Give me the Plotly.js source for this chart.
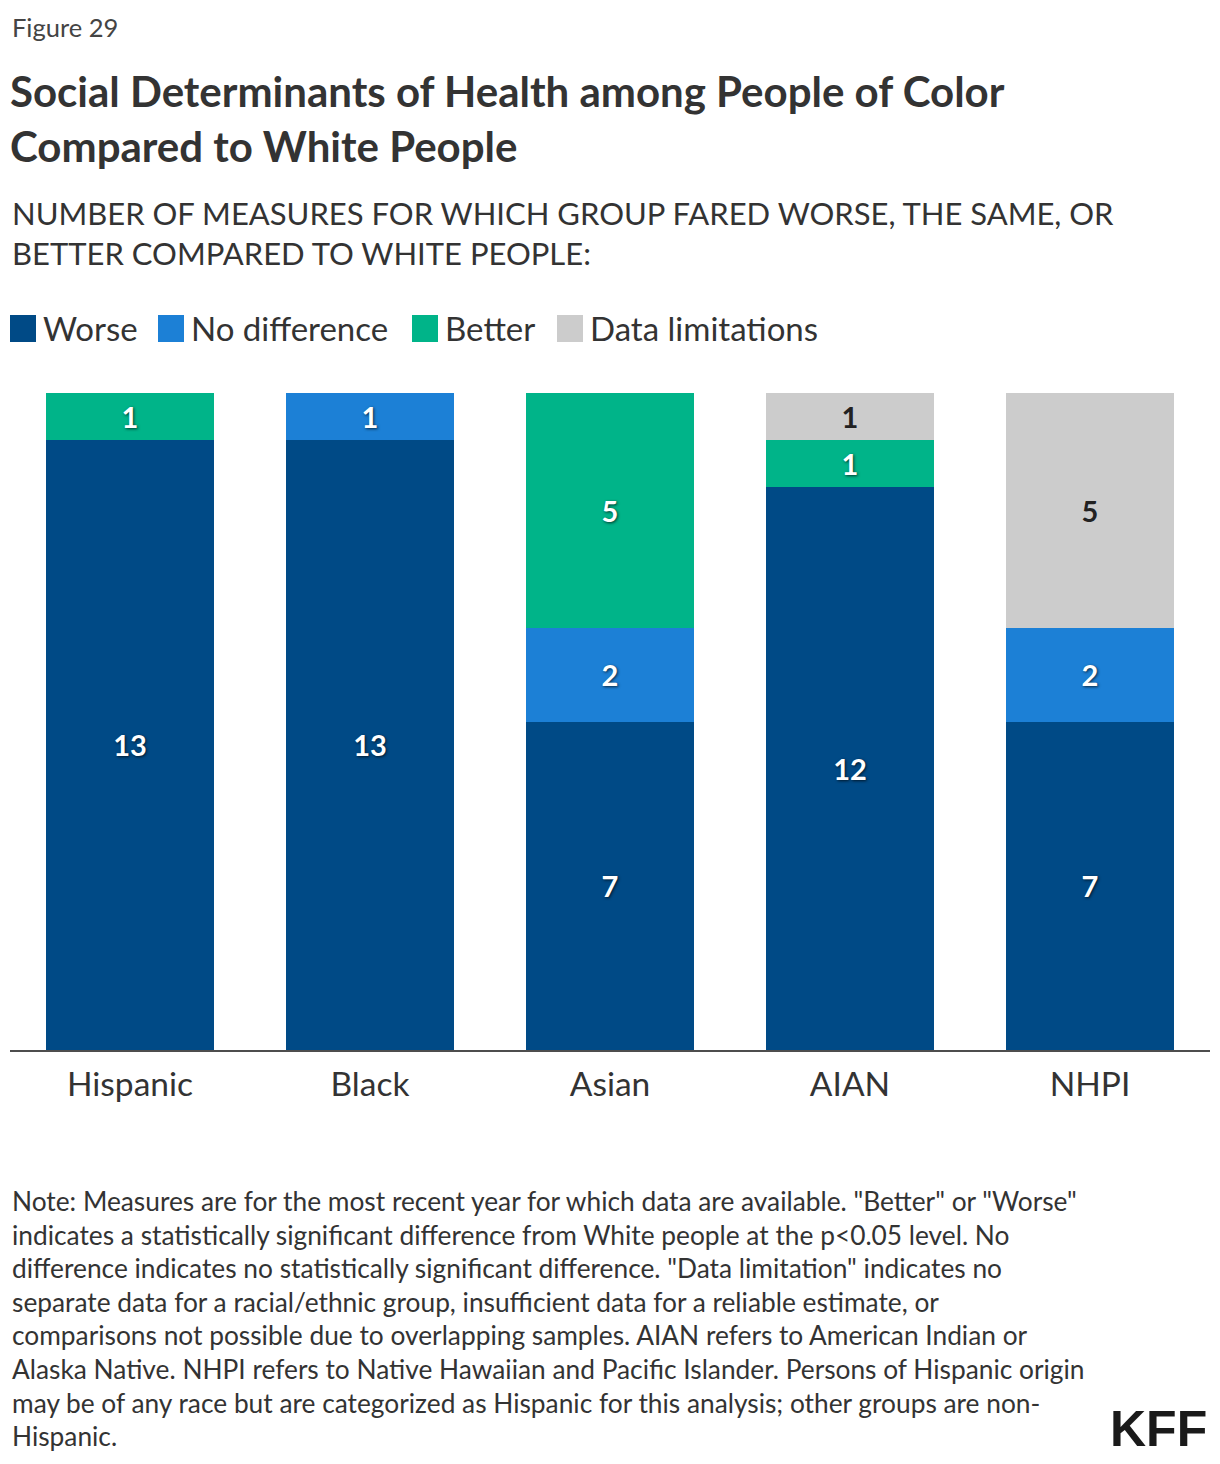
<!DOCTYPE html>
<html>
<head>
<meta charset="utf-8">
<script src="https://cdn.plot.ly/plotly-3.0.1.min.js"></script>
<style>
  html, body { margin: 0; padding: 0; background: #fff; }
  #chart { width: 1220px; height: 1464px; }
</style>
</head>
<body>
<div id="chart"></div>
<script>
// ---- Data ----
const categories = ["Hispanic", "Black", "Asian", "AIAN", "NHPI"];
const worse = [13, 13, 7, 12, 7];
const noDifference = [0, 1, 2, 0, 2];
const better = [1, 0, 5, 1, 0];
const dataLimitations = [0, 0, 0, 1, 5];
const seriesNames = ["Worse", "No difference", "Better", "Data limitations"];
const seriesColors = ["#004a86", "#1c80d6", "#00b489", "#cccccc"];
const labelColors = ["#ffffff", "#ffffff", "#ffffff", "#222222"];

const figureLabel = "Figure 29";
const titleText = "Social Determinants of Health among People of Color<br>Compared to White People";
const subtitleText = "NUMBER OF MEASURES FOR WHICH GROUP FARED WORSE, THE SAME, OR<br>BETTER COMPARED TO WHITE PEOPLE:";
const noteLines = [
  "Note: Measures are for the most recent year for which data are available. \"Better\" or \"Worse\"",
  "indicates a statistically significant difference from White people at the p<0.05 level. No",
  "difference indicates no statistically significant difference. \"Data limitation\" indicates no",
  "separate data for a racial/ethnic group, insufficient data for a reliable estimate, or",
  "comparisons not possible due to overlapping samples. AIAN refers to American Indian or",
  "Alaska Native. NHPI refers to Native Hawaiian and Pacific Islander. Persons of Hispanic origin",
  "may be of any race but are categorized as Hispanic for this analysis; other groups are non-",
  "Hispanic."
];
const logoText = "KFF";

// ---- Layout helpers ----
const W = 1220, H = 1464;
const M = { l: 10, r: 10, t: 393, b: 414 };
const plotW = W - M.l - M.r, plotH = H - M.t - M.b;
const px = x => (x - M.l) / plotW;
const py = y => (H - M.b - y) / plotH;

const FONT = "Lato, 'Noto Sans', sans-serif";
const TXT = "#333333";

const seriesValues = [worse, noDifference, better, dataLimitations];
const traces = seriesValues.map((vals, i) => ({
  type: "bar",
  name: seriesNames[i],
  x: categories,
  y: vals.map(v => (v === 0 ? null : v)),
  marker: { color: seriesColors[i], line: { width: 0 } },
  texttemplate: "%{y}",
  textposition: "inside",
  insidetextanchor: "middle",
  textangle: 0,
  textfont: {
    family: FONT, size: 29, weight: 700, color: labelColors[i],
    shadow: i < 3 ? "1px 1px 3px rgba(0,0,0,0.7)" : "none"
  },
  hoverinfo: "x+y+name",
  showlegend: false
}));

const annotations = [];
const shapes = [];

annotations.push({
  text: figureLabel, xref: "paper", yref: "paper", x: px(10), y: py(27),
  xanchor: "left", yanchor: "middle", showarrow: false,
  font: { family: FONT, size: 25.5, color: "#444444" }
});
annotations.push({
  text: subtitleText, xref: "paper", yref: "paper", x: px(10), y: py(233),
  xanchor: "left", yanchor: "middle", align: "left", showarrow: false,
  font: { family: FONT, size: 31, color: TXT }
});

// legend (custom, large squares)
const legendX = [10, 158, 412, 557];
seriesNames.forEach((n, i) => {
  shapes.push({
    type: "rect", xref: "paper", yref: "paper",
    x0: px(legendX[i]), x1: px(legendX[i] + 26), y0: py(342), y1: py(315),
    fillcolor: seriesColors[i], line: { width: 0 }
  });
  annotations.push({
    text: n, xref: "paper", yref: "paper", x: px(legendX[i] + 31), y: py(328),
    xanchor: "left", yanchor: "middle", showarrow: false,
    font: { family: FONT, size: 33, color: TXT }
  });
});

noteLines.forEach((t, i) => {
  annotations.push({
    text: t, xref: "paper", yref: "paper", x: px(10), y: py(1201 + i * 33.6),
    xanchor: "left", yanchor: "middle", showarrow: false,
    font: { family: FONT, size: 26.3, color: TXT }
  });
});

annotations.push({
  text: logoText, xref: "paper", yref: "paper", x: px(1209), y: py(1429),
  xanchor: "right", yanchor: "middle", showarrow: false,
  font: { family: "'Liberation Sans', Arial, sans-serif", size: 50, weight: 700, color: "#1a1a1a" }
});

const layout = {
  width: W, height: H,
  margin: M,
  paper_bgcolor: "#ffffff", plot_bgcolor: "#ffffff",
  title: {
    text: titleText, xref: "container", yref: "container",
    x: 10 / W, xanchor: "left", y: 1 - 107 / H, yanchor: "top",
    font: { family: FONT, size: 42, weight: 700, color: TXT }
  },
  barmode: "stack",
  bargap: 0.3,
  xaxis: {
    type: "category", showgrid: false, zeroline: false,
    showline: true, linecolor: "#4d4d4d", linewidth: 2,
    ticks: "", ticklabelstandoff: 4,
    tickfont: { family: FONT, size: 33.5, color: TXT },
    fixedrange: true
  },
  yaxis: { range: [0, 14], visible: false, fixedrange: true },
  showlegend: false,
  annotations, shapes,
  font: { family: FONT, color: TXT }
};

Plotly.newPlot("chart", traces, layout, { displayModeBar: false, staticPlot: true });
</script>
</body>
</html>
